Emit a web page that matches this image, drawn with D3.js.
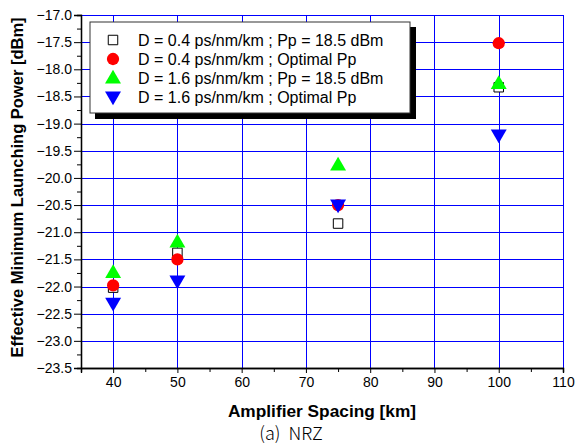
<!DOCTYPE html>
<html><head><meta charset="utf-8">
<script src="https://cdn.jsdelivr.net/npm/d3@7"></script>
</head><body style="margin:0">
<svg id="c" width="576" height="445" font-family="Liberation Sans, Arial, sans-serif"></svg>
<script>
const xValues = [40, 50, 75, 100];
const sq04Fixed = [-22.02, -21.38, -20.84, -18.33];
const circ04Opt = [-21.98, -21.5, -20.5, -17.52];
const tri16Fixed = [-21.74, -21.18, -19.76, -18.26];
const tri16Opt = [-22.31, -21.9, -20.5, -19.21];
const legendLabels = ["D = 0.4 ps/nm/km ; Pp = 18.5 dBm","D = 0.4 ps/nm/km ; Optimal Pp","D = 1.6 ps/nm/km ; Pp = 18.5 dBm","D = 1.6 ps/nm/km ; Optimal Pp"];
const xTicks = [40,50,60,70,80,90,100,110];
const yTicks = [-17.0,-17.5,-18.0,-18.5,-19.0,-19.5,-20.0,-20.5,-21.0,-21.5,-22.0,-22.5,-23.0,-23.5];

const svg = d3.select("#c");
const L=81, R=563, T=15, B=368;
const x = d3.scaleLinear().domain([35,110]).range([L,R]);
const y = d3.scaleLinear().domain([-23.5,-17]).range([B,T]);

// grid (1px filled rects at whole pixels)
const grid = svg.append("g").attr("shape-rendering","crispEdges");
grid.selectAll("rect.gv").data(xTicks).enter().append("rect").attr("class","gv")
  .attr("x",d=>Math.round(x(d))).attr("width",1.2).attr("y",T).attr("height",B-T)
  .attr("fill","#0000ff");
grid.selectAll("rect.gh").data(yTicks.filter(d=>d>-23.5)).enter().append("rect").attr("class","gh")
  .attr("y",d=>Math.round(y(d))).attr("height",1.2).attr("x",L).attr("width",R-L+1)
  .attr("fill","#0000ff");

// axes
const yAxis = d3.axisLeft(y).tickValues(yTicks).tickFormat(d3.format(".1f")).tickSize(7).tickPadding(2);
const yMinor = d3.axisLeft(y).tickValues(yTicks.slice(0,13).map(v=>v-0.25)).tickFormat("").tickSize(4);
const xAxis = d3.axisBottom(x).tickValues(xTicks).tickFormat(d3.format("d")).tickSize(5).tickPadding(4);
const xMinor = d3.axisBottom(x).tickValues([35,45,55,65,75,85,95,105]).tickFormat("").tickSize(4);

function styleAxis(g){
  g.select(".domain").attr("stroke","#000").attr("stroke-width",1.3);
  g.selectAll(".tick line").attr("stroke","#000");
  g.selectAll("text").attr("font-size",14).attr("fill","#000").attr("font-family","Liberation Sans, Arial, sans-serif");
}
svg.append("g").attr("transform",`translate(${L},0)`).call(yMinor).call(styleAxis);
svg.append("g").attr("transform",`translate(${L},0)`).call(yAxis).call(styleAxis);
svg.append("g").attr("transform",`translate(0,${B})`).call(xMinor).call(styleAxis);
svg.append("g").attr("transform",`translate(0,${B})`).call(xAxis).call(styleAxis);

// titles
svg.append("text").attr("x",(L+R)/2).attr("y",417).attr("text-anchor","middle")
  .attr("font-size",17.3).attr("font-weight","bold").text("Amplifier Spacing [km]");
svg.append("text").attr("transform",`translate(23,${(T+B)/2 - 4}) rotate(-90)`).attr("text-anchor","middle")
  .attr("font-size",16.5).attr("font-weight","bold").text("Effective Minimum Launching Power [dBm]");
svg.append("text").attr("x",291).attr("y",440).attr("text-anchor","middle")
  .attr("font-size",18).attr("font-family","Noto Sans CJK KR").attr("font-weight",300).attr("xml:space","preserve").text("(a)  NRZ");

// markers
const sym = {
  sq: d3.symbol().type(d3.symbolSquare).size(90),
  circ: d3.symbol().type(d3.symbolCircle).size(118),
  up: d3.symbol().type(d3.symbolTriangle).size(110),
  down: d3.symbol().type(d3.symbolTriangle).size(110)
};
const series = [
  {vals: sq04Fixed, s: "sq", fill:"#fff", stroke:"#000", rot:0, dy:0},
  {vals: circ04Opt, s: "circ", fill:"#ff0000", stroke:"none", rot:0, dy:0},
  {vals: tri16Fixed, s: "up", fill:"#00ff00", stroke:"none", rot:0, dy:1},
  {vals: tri16Opt, s: "down", fill:"#0000ff", stroke:"none", rot:180, dy:-1}
];
series.forEach(se=>{
  svg.append("g").selectAll("path").data(xValues.map((d,i)=>[d,se.vals[i]])).join("path")
    .attr("d", sym[se.s]())
    .attr("transform", d=>`translate(${x(d[0])},${y(d[1])+se.dy}) rotate(${se.rot})`)
    .attr("fill", se.fill).attr("stroke", se.stroke).attr("stroke-width",1);
});

// legend
const lg = svg.append("g");
const lx=90, ly=22, lw=320, lh=91;
lg.append("rect").attr("x",lx+5).attr("y",ly+5).attr("width",lw+1).attr("height",lh+1).attr("fill","#000");
lg.append("rect").attr("x",lx).attr("y",ly).attr("width",lw).attr("height",lh).attr("fill","#fff").attr("stroke","#333").attr("stroke-width",1);
series.forEach((se,i)=>{
  const yy = 40 + i*19;
  lg.append("path").attr("d", sym[se.s]())
    .attr("transform",`translate(113,${yy+se.dy}) rotate(${se.rot})`)
    .attr("fill",se.fill).attr("stroke",se.stroke);
  lg.append("text").attr("x",138).attr("y",yy+6).attr("font-size",16).text(legendLabels[i]);
});
</script>
</body></html>
